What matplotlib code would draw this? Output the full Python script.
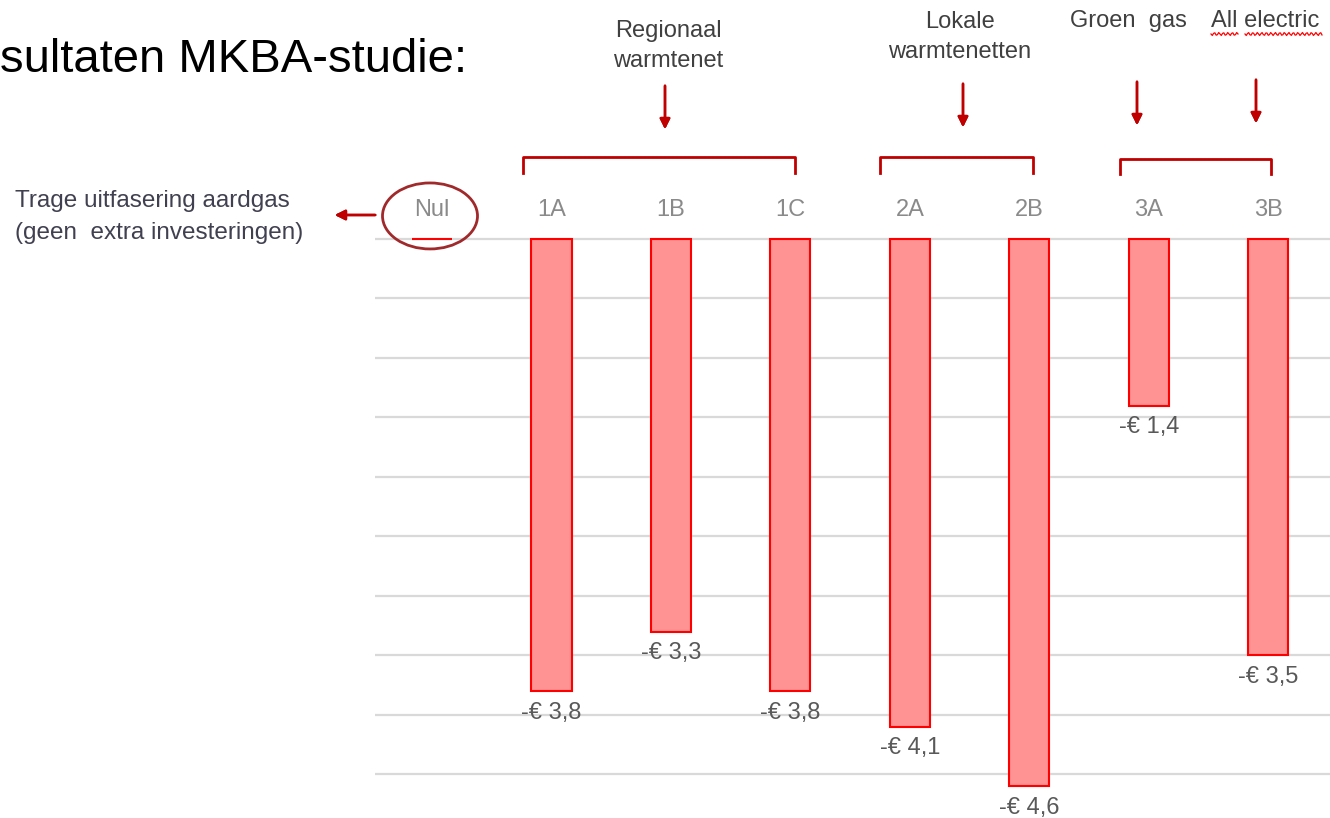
import matplotlib
matplotlib.use("Agg")
import matplotlib.pyplot as plt
from matplotlib.patches import Ellipse
import numpy as np

plt.rcParams['font.family'] = ['Liberation Sans', 'DejaVu Sans']

categories = ["Nul", "1A", "1B", "1C", "2A", "2B", "3A", "3B"]
values = [0.0, -3.8, -3.3, -3.8, -4.1, -4.6, -1.4, -3.5]
value_labels = ["", "-€ 3,8", "-€ 3,3", "-€ 3,8", "-€ 4,1", "-€ 4,6", "-€ 1,4", "-€ 3,5"]
grid_values = [0, -0.5, -1.0, -1.5, -2.0, -2.5, -3.0, -3.5, -4.0, -4.5]
group_lines = [["Regionaal", "warmtenet"], ["Lokale", "warmtenetten"], ["Groen  gas"], ["All electric"]]

W, H = 1330, 818
fig = plt.figure(figsize=(W / 100, H / 100), dpi=100)
fig.patch.set_facecolor("white")

ax_left = 375
ax = fig.add_axes([ax_left / W, 0, (W - ax_left) / W, 1])
ax.set_xlim(-0.477, 7.515)
ax.set_ylim(-4.866, 2.008)
ax.axis("off")

x = np.arange(len(categories))

# gridlines
for g in grid_values:
    ax.axhline(g, color="#d9d9d9", lw=1.6, zorder=0)

# bars
ax.bar(x, values, width=0.335, color="#ff9393", edgecolor="#ff0000", lw=1.5, zorder=2)

# value labels
for xi, v, lab in zip(x, values, value_labels):
    if lab:
        ax.annotate(lab, (xi, v), xytext=(0, -15.5), textcoords="offset points",
                    ha="center", va="center", fontsize=17, color="#595959")

# category labels
cat_y = (239 - 210) / 119
for xi, c in zip(x, categories):
    ax.text(xi, cat_y, c, ha="center", va="center", fontsize=17, color="#8a8a8a")

# ellipse around Nul
ax.add_patch(Ellipse((-2 / 119.5, (239 - 216) / 119), 95 / 119.5, 66 / 119, fill=False,
                     edgecolor="#a0292b", lw=2, zorder=3))

# --- annotations in pixel space (figure coordinates) ---
def fx(px):
    return px / W

def fy(py):
    return 1 - py / H

red = "#c00000"

# brackets
brackets = [(523, 795, 157, 173), (880, 1033, 157, 173), (1120, 1271, 159, 174)]
for x0, x1, ytop, ybot in brackets:
    fig.add_artist(plt.Line2D([fx(x0), fx(x0), fx(x1), fx(x1)],
                              [fy(ybot), fy(ytop), fy(ytop), fy(ybot)],
                              color=red, lw=2))

# down arrows
arrows = [(665, 83, 132), (963, 81, 130), (1137, 79, 128), (1256, 77, 126)]
for ax_x, y0, y1 in arrows:
    fig.add_artist(plt.annotate("", xy=(fx(ax_x), fy(y1)), xytext=(fx(ax_x), fy(y0)),
                                xycoords="figure fraction", textcoords="figure fraction",
                                arrowprops=dict(arrowstyle="-|>", color=red, lw=1.8,
                                                mutation_scale=15)))

# group labels (baseline positions)
group_pos = [(668, [37, 67]), (960, [28, 58]), (1128, [27]), (1265, [27])]
for (gx, ys), lines in zip(group_pos, group_lines):
    for gy, line in zip(ys, lines):
        fig.text(fx(gx), fy(gy), line, ha="center", va="baseline", fontsize=17,
                 color="#404040")

# wavy spellcheck underline under "All electric"
for xs, xe in [(1211, 1238), (1245, 1322)]:
    wx = np.linspace(xs, xe, int((xe - xs) / 1.2))
    wy = 34 + 1.5 * np.sin((wx - xs) * 2 * np.pi / 4.5)
    fig.add_artist(plt.Line2D(fx(wx), fy(wy), color="#ff0000", lw=0.9))

# title
fig.text(fx(0), fy(72), "sultaten MKBA-studie:", ha="left", va="baseline",
         fontsize=34, color="black")

# left annotation
fig.text(fx(15), fy(207), "Trage uitfasering aardgas", ha="left", va="baseline",
         fontsize=17.5, color="#404050")
fig.text(fx(15), fy(239), "(geen  extra investeringen)", ha="left", va="baseline",
         fontsize=17.5, color="#404050")
fig.add_artist(plt.annotate("", xy=(fx(332), fy(215)), xytext=(fx(378), fy(215)),
                            xycoords="figure fraction", textcoords="figure fraction",
                            arrowprops=dict(arrowstyle="-|>", color=red, lw=1.8,
                                            mutation_scale=15)))

fig.savefig("out.png", dpi=100)
